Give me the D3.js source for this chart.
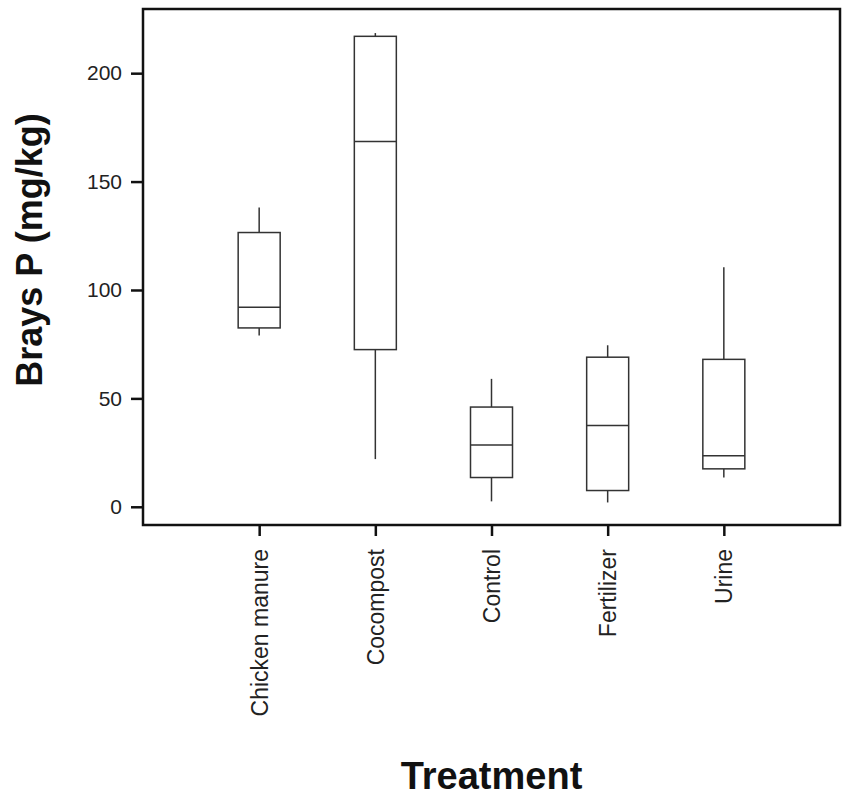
<!DOCTYPE html>
<html>
<head>
<meta charset="utf-8">
<script src="https://cdn.jsdelivr.net/npm/d3@7"></script>
<style>
  body { margin: 0; background: #fff; }
  text { font-family: "Liberation Sans", Arial, sans-serif; }
</style>
</head>
<body>
<div id="chart"></div>
<script>
// data
const treatments = ["Chicken manure", "Cocompost", "Control", "Fertilizer", "Urine"];
const whiskerLow = [79, 22, 2.5, 2, 13.5];
const q1 = [82.5, 72.5, 13.5, 7.5, 17.5];
const median = [92, 168.5, 28.5, 37.5, 23.5];
const q3 = [126.5, 217, 46, 69, 68];
const whiskerHigh = [138, 218.5, 59, 74.5, 110.5];
const yTicks = [0, 50, 100, 150, 200];

const dataset = treatments.map((t, i) => ({
  name: t,
  lo: whiskerLow[i],
  q1: q1[i],
  med: median[i],
  q3: q3[i],
  hi: whiskerHigh[i],
}));

// dimensions
let dimensions = {
  width: 850,
  height: 802,
  margin: { top: 9, right: 10, bottom: 277, left: 143 },
};
dimensions.ctrWidth = dimensions.width - dimensions.margin.left - dimensions.margin.right;
dimensions.ctrHeight = dimensions.height - dimensions.margin.top - dimensions.margin.bottom;

const svg = d3
  .select("#chart")
  .append("svg")
  .attr("width", dimensions.width)
  .attr("height", dimensions.height);

const ctr = svg
  .append("g")
  .attr("transform", `translate(${dimensions.margin.left},${dimensions.margin.top})`);

// scales
const xScale = d3
  .scalePoint()
  .domain(treatments)
  .range([0, dimensions.ctrWidth])
  .padding(1);

const yScale = d3
  .scaleLinear()
  .domain([-8.4, 229.6])
  .range([dimensions.ctrHeight, 0]);

const boxW = 42;
const stroke = "#333";

// boxes
const boxes = ctr.append("g").selectAll("g").data(dataset).join("g")
  .attr("transform", (d) => `translate(${xScale(d.name)},0)`);

boxes.append("line")
  .attr("y1", (d) => yScale(d.q3))
  .attr("y2", (d) => yScale(d.hi))
  .attr("stroke", stroke).attr("stroke-width", 1.5);

boxes.append("line")
  .attr("y1", (d) => yScale(d.q1))
  .attr("y2", (d) => yScale(d.lo))
  .attr("stroke", stroke).attr("stroke-width", 1.5);

boxes.append("rect")
  .attr("x", -boxW / 2)
  .attr("width", boxW)
  .attr("y", (d) => yScale(d.q3))
  .attr("height", (d) => yScale(d.q1) - yScale(d.q3))
  .attr("fill", "white")
  .attr("stroke", stroke).attr("stroke-width", 1.5);

boxes.append("line")
  .attr("x1", -boxW / 2).attr("x2", boxW / 2)
  .attr("y1", (d) => yScale(d.med))
  .attr("y2", (d) => yScale(d.med))
  .attr("stroke", stroke).attr("stroke-width", 1.5);

// frame
ctr.append("rect")
  .attr("width", dimensions.ctrWidth)
  .attr("height", dimensions.ctrHeight)
  .attr("fill", "none")
  .attr("stroke", "#111")
  .attr("stroke-width", 2.5);

// axes
const yAxis = d3.axisLeft(yScale).tickValues(yTicks).tickSize(12).tickPadding(9);
const yAxisGroup = ctr.append("g").call(yAxis);
yAxisGroup.select(".domain").remove();
yAxisGroup.selectAll(".tick line").attr("stroke", "#111").attr("stroke-width", 2.5);
yAxisGroup.selectAll(".tick text")
  .attr("font-size", "21px")
  .attr("fill", "#222")
  .attr("font-family", "Liberation Sans, Arial, sans-serif");

const xAxis = d3.axisBottom(xScale).tickSize(11);
const xAxisGroup = ctr.append("g")
  .attr("transform", `translate(0,${dimensions.ctrHeight})`)
  .call(xAxis);
xAxisGroup.select(".domain").remove();
xAxisGroup.selectAll(".tick line").attr("stroke", "#111").attr("stroke-width", 2.5);
xAxisGroup.selectAll(".tick text")
  .attr("font-size", "23px")
  .attr("fill", "#222")
  .attr("font-family", "Liberation Sans, Arial, sans-serif")
  .attr("text-anchor", "end")
  .attr("dy", "0.35em")
  .attr("x", -24)
  .attr("y", 0)
  .attr("transform", "rotate(-90)");

// axis labels
svg.append("text")
  .attr("x", dimensions.margin.left + xScale("Control"))
  .attr("y", 789)
  .attr("text-anchor", "middle")
  .attr("font-size", "38px")
  .attr("font-weight", "bold")
  .attr("fill", "#111")
  .text("Treatment");

svg.append("text")
  .attr("transform", `translate(42,250) rotate(-90)`)
  .attr("text-anchor", "middle")
  .attr("font-size", "36px")
  .attr("font-weight", "bold")
  .attr("fill", "#111")
  .text("Brays P (mg/kg)");
</script>
</body>
</html>
